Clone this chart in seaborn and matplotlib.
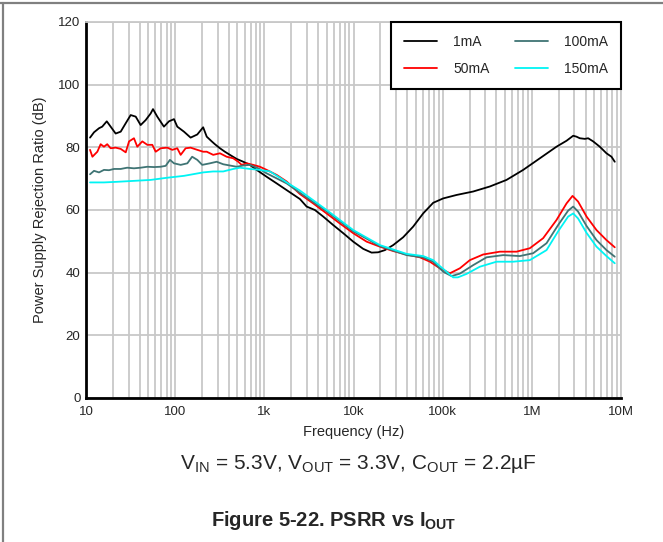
import numpy as np
import pandas as pd
import matplotlib.pyplot as plt
from matplotlib.lines import Line2D
import seaborn as sns

# ===================== data =====================
freq_1ma = [11.1, 12.3, 14.0, 15.2, 17.1, 18.9, 21.5, 24.5, 27.9, 31.7, 36.1, 41.0, 46.7, 53.1, 56.4,
            63.0, 74.8, 85.2, 97.0, 105.6, 125.5, 149, 177, 206, 226, 257, 279, 318, 361, 411, 489,
            580, 690, 820, 1062, 1374, 2506, 2980, 3690, 4575, 5920, 7670, 9930, 12850, 15950,
            18900, 22500, 27870, 36060, 46700, 60400, 78300, 101400, 143200, 219800, 338000,
            520000, 800000, 1.23e6, 1.89e6, 2.45e6, 2.91e6, 3.17e6, 3.45e6, 3.93e6, 4.28e6,
            4.87e6, 5.78e6, 6.87e6, 7.82e6, 8.51e6]
psrr_1ma = [83.1, 84.8, 86.1, 86.6, 88.3, 86.6, 84.4, 85.0, 87.7, 90.3, 89.8, 87.1, 88.7, 90.8, 92.2,
            89.8, 86.6, 88.3, 89.0, 86.6, 85.0, 83.1, 84.1, 86.4, 83.4, 81.9, 81.0, 79.7, 78.6, 77.6,
            76.3, 75.4, 74.4, 72.8, 70.6, 68.5, 63.5, 61.1, 60.0, 57.9, 55.2, 52.6, 49.9, 47.6, 46.4,
            46.5, 47.2, 48.8, 51.3, 54.7, 58.9, 62.3, 63.7, 64.8, 65.9, 67.5,
            69.6, 72.8, 76.5, 80.2, 82.1, 83.7, 83.4, 82.9, 82.7, 82.9,
            81.9, 80.2, 78.1, 77.0, 75.4]

freq_50ma = [11.1, 11.8, 13.4, 14.6, 15.9, 17.3, 18.9, 21.5, 24.5, 27.9, 30.4, 34.5, 37.6, 42.8, 48.7,
             55.4, 60.5, 68.8, 81.5, 92.8, 105.6, 115.3, 131, 149, 177, 206, 226, 267, 318, 378, 448,
             510, 557, 633, 751, 893, 1062, 1374, 1778, 2506, 3534, 4993, 7039, 9930, 14030, 19770,
             27870, 39380, 55520, 71880, 93000, 120400, 156000, 201800, 284400, 437900, 673700,
             949700, 1.339e6, 1.89e6, 2.45e6, 2.86e6, 3.30e6, 4.11e6, 5.31e6, 6.87e6, 8.51e6]
psrr_50ma = [79.2, 77.0, 78.6, 81.0, 80.2, 81.0, 79.7, 79.9, 79.5, 78.4, 81.9, 82.9, 80.2, 81.9, 80.8,
             80.8, 78.6, 79.7, 79.9, 79.2, 79.7, 77.6, 79.7, 79.9, 79.2, 78.6, 78.6, 77.6, 78.1, 77.0, 76.5,
             75.4, 74.4, 74.9, 74.4, 73.8, 72.8, 71.2, 69.1, 65.1, 62.1, 58.9, 55.7, 52.6, 49.9, 48.3,
             46.9, 45.8, 44.9, 43.5, 41.4, 39.8, 41.4, 44.0, 45.8, 46.7, 46.7,
             47.8, 51.0, 56.8, 62.1, 64.5, 62.7, 57.9, 53.6, 50.4, 48.1]

freq_100ma = [11.1, 12.3, 14.0, 15.9, 18.1, 20.6, 24.5, 29.0, 34.5, 41.0, 48.7, 57.9, 68.8, 78.3, 87.4,
              97.0, 115.3, 137, 155, 177, 201, 245.5, 292, 346, 411, 489, 580, 690, 854, 1062, 1374,
              1778, 2506, 4993, 9930, 19770, 39380, 60400, 78300, 101400, 125900, 156000, 219800,
              310700, 476800, 733800, 1.034e6, 1.462e6, 1.972e6, 2.553e6, 2.91e6, 3.30e6, 4.11e6,
              5.31e6, 6.87e6, 8.51e6]
psrr_100ma = [71.4, 72.5, 72.0, 72.8, 72.7, 73.1, 73.1, 73.5, 73.3, 73.5, 73.8, 73.7, 73.8, 74.1, 76.0,
              74.9, 74.4, 74.9, 77.0, 76.0, 74.4, 74.9, 75.4, 74.6, 74.2, 73.8, 74.2, 74.4, 73.3, 71.7, 70.1,
              68.5, 65.5, 59.6, 53.2, 48.5, 45.6, 44.9, 43.5, 40.3, 38.9, 39.7, 42.4,
              44.9, 45.6, 45.3, 46.2, 49.4, 55.2, 59.8, 61.1, 59.5, 54.9,
              50.4, 47.2, 45.1]

freq_150ma = [11.1, 15.9, 22.4, 34.5, 53.1, 81.5, 125.5, 206, 267, 346, 448, 533, 690, 893, 1156, 1496,
              1853, 2506, 4993, 9930, 19770, 39380, 60400, 78300, 93000, 108600, 131100, 148000,
              185300, 261200, 402200, 617200, 949700, 1.462e6, 1.972e6, 2.553e6, 2.91e6, 3.30e6,
              4.11e6, 5.31e6, 6.87e6, 8.51e6]
psrr_150ma = [68.8, 68.8, 69.0, 69.3, 69.6, 70.3, 70.9, 72.0, 72.3, 72.3, 73.1, 73.5, 73.1, 72.8, 72.3, 70.3,
              68.5, 66.2, 60.0, 53.6, 48.8, 46.0, 45.3, 44.0, 42.1, 40.5, 38.5, 38.5,
              39.6, 41.9, 43.5, 43.5, 44.0, 47.2, 53.2, 57.9, 58.9, 57.3,
              52.7, 48.3, 45.3, 43.0]

series_names = ["1mA", "50mA", "100mA", "150mA"]
series_colors = ["#000000", "#ff0000", "#3f7474", "#00f4f4"]

x_ticks = [10, 100, 1e3, 1e4, 1e5, 1e6, 1e7]
x_tick_labels = ["10", "100", "1k", "10k", "100k", "1M", "10M"]
y_ticks = [0, 20, 40, 60, 80, 100, 120]

# long-form table for seaborn
frames = []
for name, f, p in zip(series_names,
                      [freq_1ma, freq_50ma, freq_100ma, freq_150ma],
                      [psrr_1ma, psrr_50ma, psrr_100ma, psrr_150ma]):
    frames.append(pd.DataFrame({"freq": f, "psrr": p, "load": name}))
df = pd.concat(frames, ignore_index=True)

# ===================== style =====================
sns.set_style("white")
plt.rcParams["font.family"] = ["Liberation Sans", "DejaVu Sans"]
plt.rcParams["mathtext.fontset"] = "custom"
plt.rcParams["mathtext.rm"] = "Liberation Sans"
plt.rcParams["mathtext.it"] = "Liberation Sans:italic"
plt.rcParams["mathtext.bf"] = "Liberation Sans:bold"

fig = plt.figure(figsize=(6.63, 5.42), dpi=100)
ax = fig.add_axes([86 / 663, 1 - 398 / 542, 535 / 663, 376 / 542])

sns.lineplot(data=df, x="freq", y="psrr", hue="load", hue_order=series_names,
             palette=series_colors, estimator=None, sort=False, linewidth=1.3, ax=ax)

ax.set_xscale("log")
ax.set_xlim(10, 1e7)
ax.set_ylim(0, 120)
ax.set_xticks(x_ticks)
ax.set_xticklabels(x_tick_labels)
ax.set_yticks(y_ticks)
ax.tick_params(axis="both", which="both", length=0, labelsize=9.5)
ax.tick_params(axis="x", pad=6)
ax.tick_params(axis="y", pad=4)

# grid: minor verticals + majors
grid_c = "#c8c8c8"
ax.grid(True, which="major", axis="both", color=grid_c, linewidth=1.3)
ax.grid(True, which="minor", axis="x", color=grid_c, linewidth=1.3)
ax.set_axisbelow(True)

for s in ["top", "right"]:
    ax.spines[s].set_color(grid_c)
    ax.spines[s].set_linewidth(1.3)
for s in ["left", "bottom"]:
    ax.spines[s].set_color("black")
    ax.spines[s].set_linewidth(2)

ax.set_xlabel("Frequency (Hz)", fontsize=10.5, labelpad=5)
ax.set_ylabel("Power Supply Rejection Ratio (dB)", fontsize=10.5, labelpad=8)

leg = ax.legend(title=None, loc="upper right", ncol=2, fontsize=10, frameon=True,
                fancybox=False, borderaxespad=0.0, handlelength=2.4, handletextpad=1.15,
                columnspacing=1.8, borderpad=0.95, labelspacing=0.9)
leg.get_frame().set_edgecolor("black")
leg.get_frame().set_linewidth(1.5)
leg.get_frame().set_alpha(1)

fig.text(358 / 663, 1 - 464 / 542,
         r"V$_{\mathrm{IN}}$ = 5.3V, V$_{\mathrm{OUT}}$ = 3.3V, C$_{\mathrm{OUT}}$ = 2.2µF",
         ha="center", va="center", fontsize=15)
fig.text(334 / 663, 1 - 521 / 542, r"Figure 5-22. PSRR vs I$_{\mathbf{OUT}}$",
         ha="center", va="center", fontsize=14.5, fontweight="bold")

# page frame (top and left edges)
fig.add_artist(Line2D([0, 1], [1 - 2.5 / 542, 1 - 2.5 / 542], color="#808080", linewidth=1.6))
fig.add_artist(Line2D([3 / 663, 3 / 663], [0, 1 - 2.5 / 542], color="#808080", linewidth=1.6))

fig.savefig("out.png", dpi=100)
